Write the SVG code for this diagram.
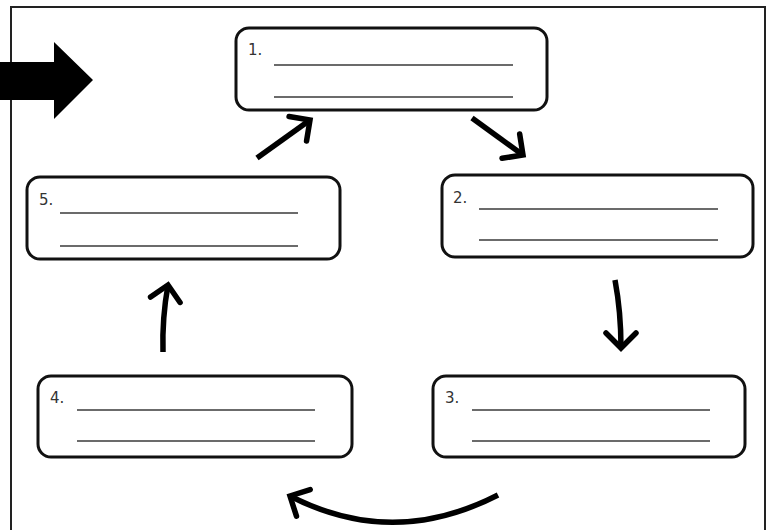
<svg xmlns="http://www.w3.org/2000/svg" width="773" height="530" viewBox="0 0 773 530">
<style>
.box{fill:#fff;stroke:#111;stroke-width:3}
.num{font-family:"DejaVu Sans",Verdana,sans-serif;font-size:15px;fill:#333}
.ln{stroke:#3a3a3a;stroke-width:1.7}
.arr{fill:none;stroke:#000;stroke-width:5.5;stroke-linecap:butt;marker-end:url(#head)}
</style>
<defs>
<marker id="head" markerUnits="userSpaceOnUse" orient="auto" refX="0" refY="0" markerWidth="40" markerHeight="40" viewBox="-30 -20 40 40" overflow="visible">
<path d="M-15,-15 L0,0 L-15,15" fill="none" stroke="#000" stroke-width="5.5" stroke-linecap="round" stroke-linejoin="miter"/>
</marker>
</defs>
<rect width="773" height="530" fill="#fff"/>
<rect x="11" y="7" width="754" height="540" fill="none" stroke="#222" stroke-width="2"/>
<polygon points="0,62 54,62 54,42 93,80 54,119 54,100 0,100" fill="#000"/>
<g id="node1">
<rect class="box" x="236" y="28" width="311" height="82" rx="13"/>
<text class="num" x="248" y="55">1.</text>
<line class="ln" x1="274" y1="65" x2="513" y2="65"/>
<line class="ln" x1="274" y1="97" x2="513" y2="97"/>
</g>
<g id="node2">
<rect class="box" x="442" y="175" width="311" height="82" rx="13"/>
<text class="num" x="453" y="203">2.</text>
<line class="ln" x1="479" y1="209" x2="718" y2="209"/>
<line class="ln" x1="479" y1="240" x2="718" y2="240"/>
</g>
<g id="node3">
<rect class="box" x="433" y="376" width="312" height="81" rx="13"/>
<text class="num" x="445" y="403">3.</text>
<line class="ln" x1="472" y1="410" x2="710" y2="410"/>
<line class="ln" x1="472" y1="441" x2="710" y2="441"/>
</g>
<g id="node4">
<rect class="box" x="38" y="376" width="314" height="81" rx="13"/>
<text class="num" x="50" y="403">4.</text>
<line class="ln" x1="77" y1="410" x2="315" y2="410"/>
<line class="ln" x1="77" y1="441" x2="315" y2="441"/>
</g>
<g id="node5">
<rect class="box" x="27" y="177" width="313" height="82" rx="13"/>
<text class="num" x="39" y="205">5.</text>
<line class="ln" x1="60" y1="213" x2="298" y2="213"/>
<line class="ln" x1="60" y1="246" x2="298" y2="246"/>
</g>
<g id="connectors">
<path class="arr" d="M257,158 L310,120"/>
<path class="arr" d="M472,118 L523,155"/>
<path class="arr" d="M615,280 Q621,312 621,348"/>
<path class="arr" d="M163,352 Q162,318 168,285"/>
<path class="arr" d="M498,495 Q393,549 290,496"/>
</g>
</svg>
